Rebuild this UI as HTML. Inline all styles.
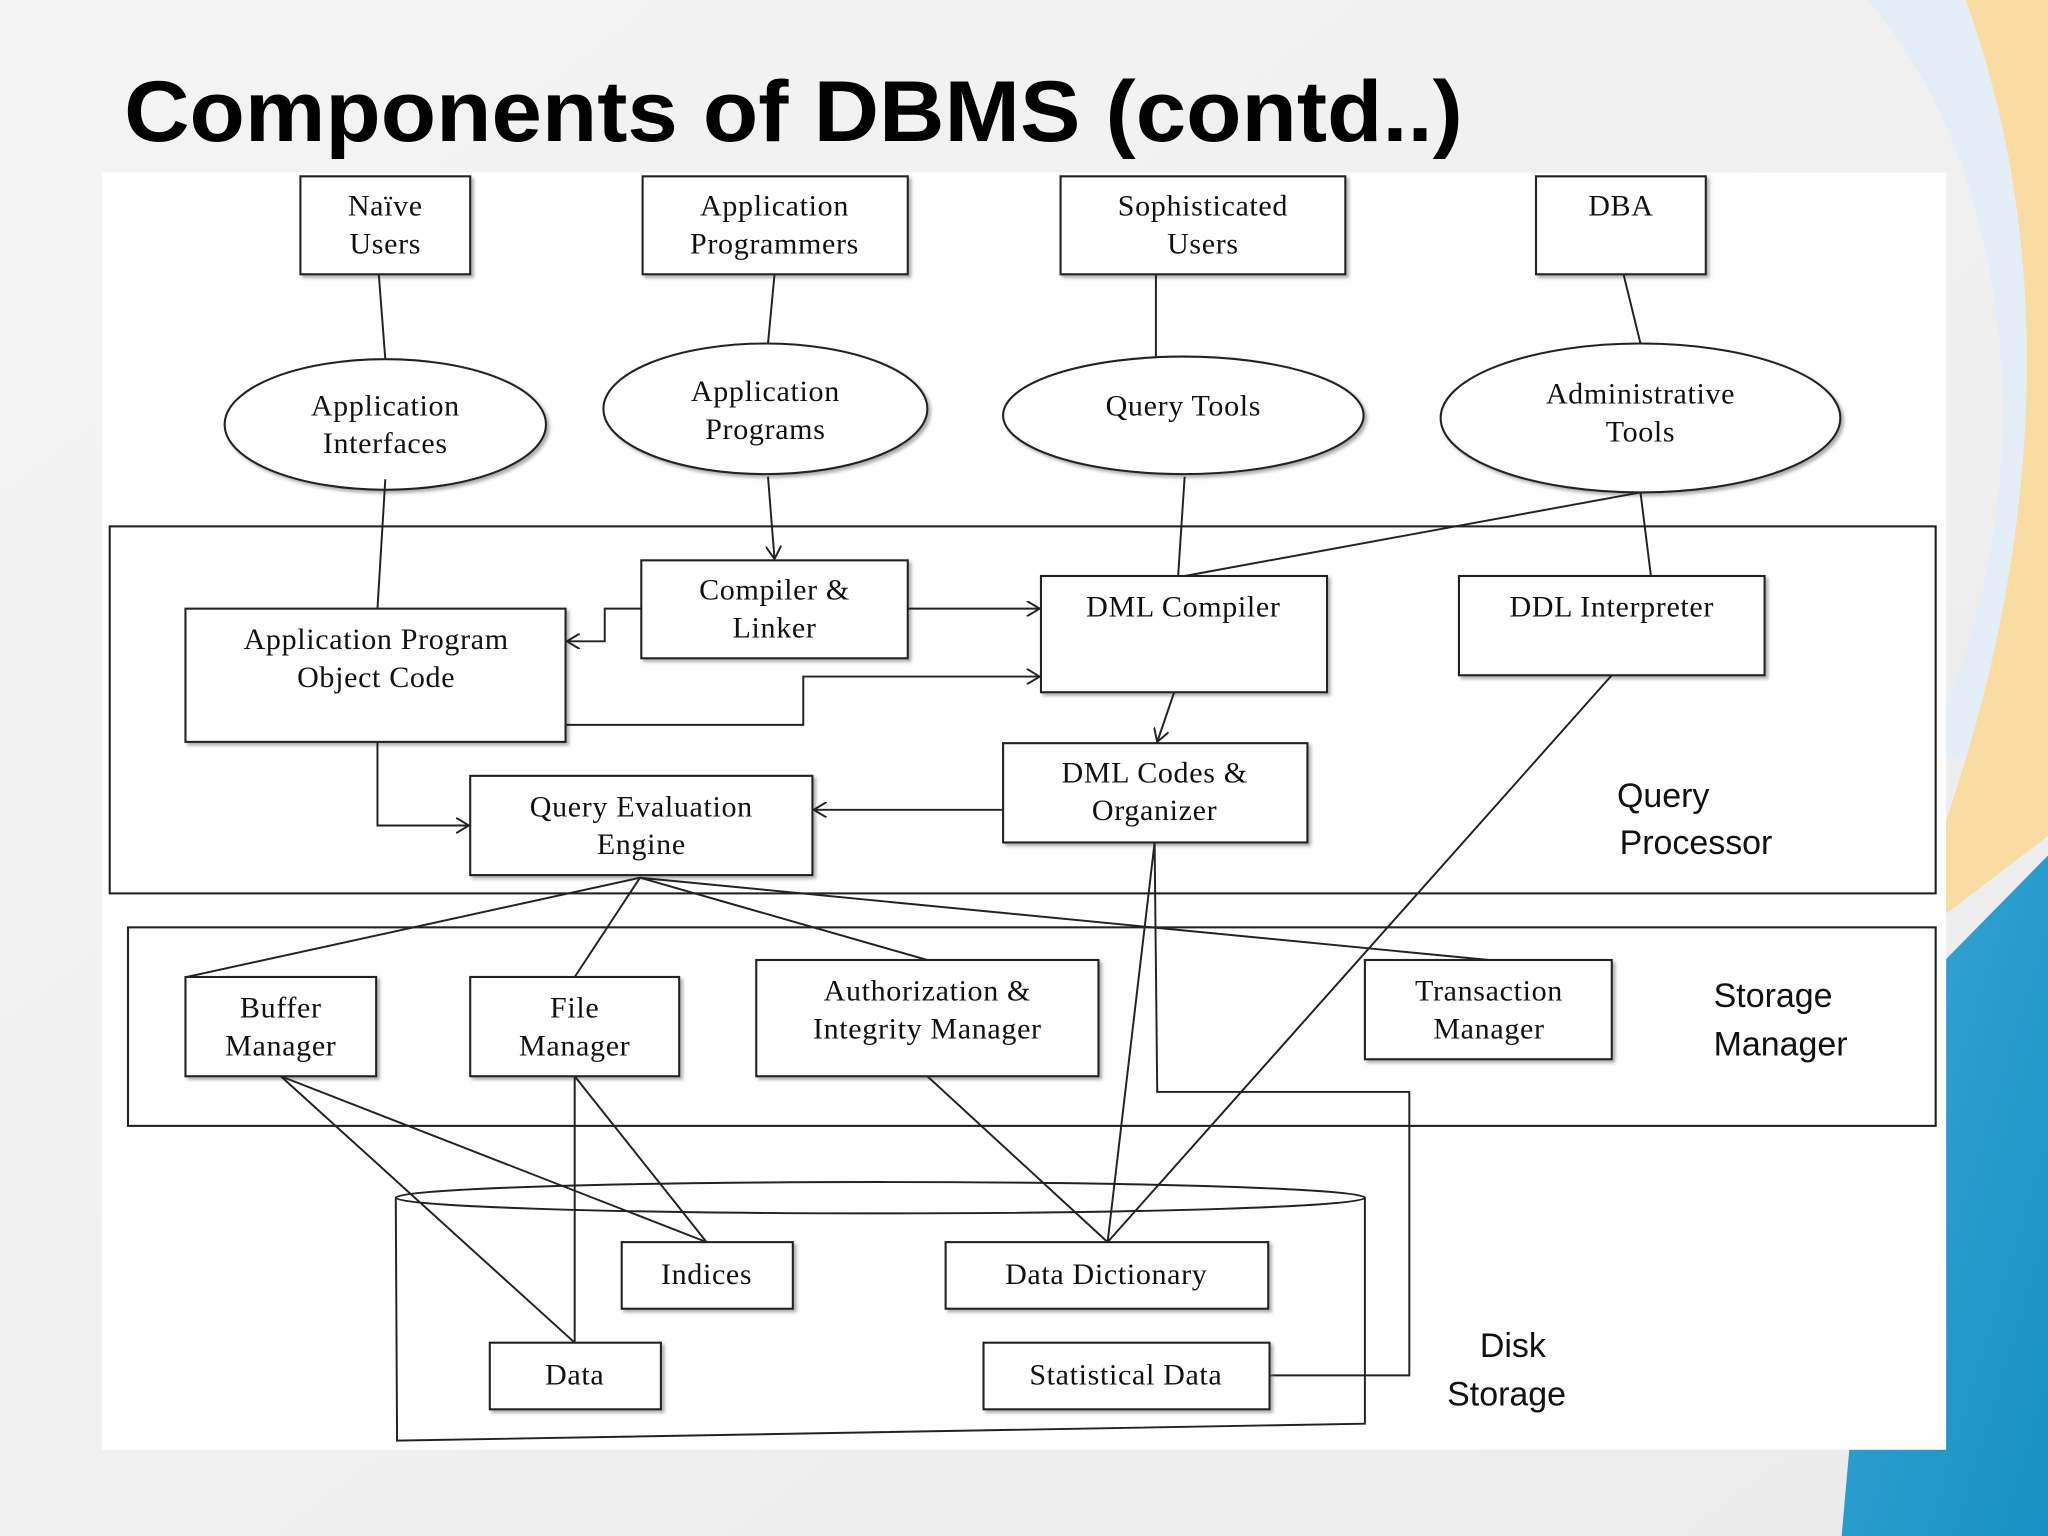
<!DOCTYPE html>
<html><head><meta charset="utf-8"><style>
html,body{margin:0;padding:0;width:2048px;height:1536px;overflow:hidden;background:#f2f2f2}
svg{display:block}
.b{fill:#fff;stroke:#222;stroke-width:1.6;filter:url(#sh)}
.l{stroke:#222;stroke-width:1.5;fill:none}
.t{font-family:"Liberation Serif",serif;font-size:23px;fill:#111;text-anchor:middle;letter-spacing:0.5px}
.s{font-family:"Liberation Sans",sans-serif;font-size:26px;fill:#111}
</style></head><body>
<svg width="2048" height="1536" viewBox="0 0 1568 1176" xmlns="http://www.w3.org/2000/svg">
<defs>
<filter id="sh" x="-5%" y="-5%" width="115%" height="120%"><feDropShadow dx="2" dy="2" stdDeviation="1.2" flood-color="#777" flood-opacity="0.6"/></filter>
<marker id="a" markerWidth="12" markerHeight="12" refX="10" refY="6" orient="auto" markerUnits="userSpaceOnUse"><path d="M0,0 L10,6 L0,12" fill="none" stroke="#222" stroke-width="1.5"/></marker>
<linearGradient id="bg" x1="0" y1="0" x2="1" y2="1"><stop offset="0" stop-color="#f4f4f4"/><stop offset="1" stop-color="#ececec"/></linearGradient>
<linearGradient id="bl" x1="0" y1="0" x2="1" y2="1"><stop offset="0" stop-color="#3aa8d6"/><stop offset="1" stop-color="#1690c4"/></linearGradient>
</defs>
<rect width="1568" height="1176" fill="url(#bg)"/>
<path d="M1430,0 C1560,150 1560,420 1470,580 L1568,580 L1568,0 Z" fill="#e3eef6"/>
<path d="M1505,0 C1585,220 1560,480 1450,730 L1568,640 L1568,0 Z" fill="#f8dca2"/>
<path d="M1445,780 L1568,655 L1568,1176 L1410,1176 Z" fill="url(#bl)"/>
<text x="95" y="108" font-family="Liberation Sans,sans-serif" font-weight="bold" font-size="66" fill="#000" textLength="1025" lengthAdjust="spacingAndGlyphs">Components of DBMS (contd..)</text>
<rect x="78" y="132" width="1412" height="978" fill="#fff"/>

<rect class="b" x="230" y="135" width="130" height="75"/><text class="t" x="295" y="165">Naïve</text><text class="t" x="295" y="194">Users</text>
<rect class="b" x="492" y="135" width="203" height="75"/><text class="t" x="593" y="165">Application</text><text class="t" x="593" y="194">Programmers</text>
<rect class="b" x="812" y="135" width="218" height="75"/><text class="t" x="921" y="165">Sophisticated</text><text class="t" x="921" y="194">Users</text>
<rect class="b" x="1176" y="135" width="130" height="75"/><text class="t" x="1241" y="165">DBA</text>
<path class="l" d="M290,210 L295,275 M593,210 L588,263 M885,210 L885,273 M1243,210 L1256,263"/>
<ellipse class="b" cx="295" cy="325" rx="123" ry="50"/><text class="t" x="295" y="318">Application</text><text class="t" x="295" y="347">Interfaces</text>
<ellipse class="b" cx="586" cy="313" rx="124" ry="50"/><text class="t" x="586" y="307">Application</text><text class="t" x="586" y="336">Programs</text>
<ellipse class="b" cx="906" cy="318" rx="138" ry="45"/><text class="t" x="906" y="318">Query Tools</text>
<ellipse class="b" cx="1256" cy="320" rx="153" ry="57"/><text class="t" x="1256" y="309">Administrative</text><text class="t" x="1256" y="338">Tools</text>

<rect x="84" y="403" width="1398" height="281" fill="none" stroke="#222" stroke-width="1.6"/>
<path class="l" d="M295,367 L289,466 M907,365 L902,441 M1256,377 L907,441 M1256,377 L1264,441"/>
<path class="l" d="M588,365 L593,428" marker-end="url(#a)"/>
<rect class="b" x="491" y="429" width="204" height="75"/><text class="t" x="593" y="459">Compiler &amp;</text><text class="t" x="593" y="488">Linker</text>
<rect class="b" x="142" y="466" width="291" height="102"/><text class="t" x="288" y="497">Application Program</text><text class="t" x="288" y="526">Object Code</text>
<rect class="b" x="797" y="441" width="219" height="89"/><text class="t" x="906" y="472">DML Compiler</text>
<rect class="b" x="1117" y="441" width="234" height="76"/><text class="t" x="1234" y="472">DDL Interpreter</text>
<rect class="b" x="768" y="569" width="233" height="76"/><text class="t" x="884" y="599">DML Codes &amp;</text><text class="t" x="884" y="628">Organizer</text>
<rect class="b" x="360" y="594" width="262" height="76"/><text class="t" x="491" y="625">Query Evaluation</text><text class="t" x="491" y="654">Engine</text>
<path class="l" d="M491,466 L463,466 L463,491 L434,491" marker-end="url(#a)"/>
<path class="l" d="M695,466 L796,466" marker-end="url(#a)"/>
<path class="l" d="M433,555 L615,555 L615,518 L796,518" marker-end="url(#a)"/>
<path class="l" d="M899,530 L886,568" marker-end="url(#a)"/>
<path class="l" d="M768,620 L623,620" marker-end="url(#a)"/>
<path class="l" d="M289,568 L289,632 L359,632" marker-end="url(#a)"/>
<text class="s" x="1238" y="618">Query</text><text class="s" x="1240" y="654">Processor</text>

<rect x="98" y="710" width="1384" height="152" fill="none" stroke="#222" stroke-width="1.6"/>
<path class="l" d="M490,672 L143,748 M490,672 L440,748 M490,672 L710,735 M490,672 L1140,735"/>
<rect class="b" x="142" y="748" width="146" height="76"/><text class="t" x="215" y="779">Buffer</text><text class="t" x="215" y="808">Manager</text>
<rect class="b" x="360" y="748" width="160" height="76"/><text class="t" x="440" y="779">File</text><text class="t" x="440" y="808">Manager</text>
<rect class="b" x="579" y="735" width="262" height="89"/><text class="t" x="710" y="766">Authorization &amp;</text><text class="t" x="710" y="795">Integrity Manager</text>
<rect class="b" x="1045" y="735" width="189" height="76"/><text class="t" x="1140" y="766">Transaction</text><text class="t" x="1140" y="795">Manager</text>
<text class="s" x="1312" y="771">Storage</text><text class="s" x="1312" y="808">Manager</text>

<path class="l" d="M303,917 L304,1103 L1045,1090 L1045,917"/>
<ellipse cx="674" cy="917" rx="371" ry="12" fill="#fff" stroke="#222" stroke-width="1.5"/>
<path class="l" d="M215,824 L440,1028 M215,824 L541,951 M440,824 L440,1028 M440,824 L541,951 M710,824 L848,951 M1234,517 L848,951 M884,645 L848,951 M884,645 L886,836 L1079,836 L1079,1053 L972,1053"/>
<rect class="b" x="476" y="951" width="131" height="51"/><text class="t" x="541" y="983">Indices</text>
<rect class="b" x="724" y="951" width="247" height="51"/><text class="t" x="847" y="983">Data Dictionary</text>
<rect class="b" x="375" y="1028" width="131" height="51"/><text class="t" x="440" y="1060">Data</text>
<rect class="b" x="753" y="1028" width="219" height="51"/><text class="t" x="862" y="1060">Statistical Data</text>
<text class="s" x="1133" y="1039">Disk</text><text class="s" x="1108" y="1076">Storage</text>
</svg>
</body></html>
